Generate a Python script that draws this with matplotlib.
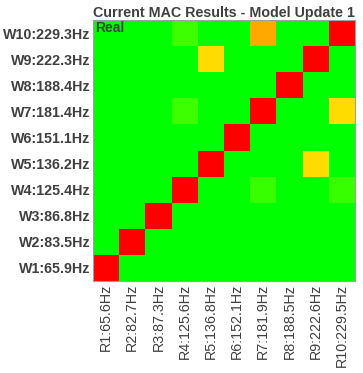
import numpy as np
import matplotlib
matplotlib.use("Agg")
import matplotlib.pyplot as plt
from matplotlib.colors import LinearSegmentedColormap

plt.rcParams['font.family'] = ['Liberation Sans', 'DejaVu Sans']

# frequency labels
ref_labels = ["R1:65.6Hz", "R2:82.7Hz", "R3:87.3Hz", "R4:125.6Hz", "R5:136.8Hz",
              "R6:152.1Hz", "R7:181.9Hz", "R8:188.5Hz", "R9:222.6Hz", "R10:229.5Hz"]
model_labels = ["W1:65.9Hz", "W2:83.5Hz", "W3:86.8Hz", "W4:125.4Hz", "W5:136.2Hz",
                "W6:151.1Hz", "W7:181.4Hz", "W8:188.4Hz", "W9:222.3Hz", "W10:229.3Hz"]

# MAC values, rows W1..W10, columns R1..R10
mac = np.array([
    [1.00, 0.00, 0.00, 0.00, 0.00, 0.00, 0.00, 0.00, 0.00, 0.00],
    [0.00, 1.00, 0.00, 0.00, 0.00, 0.00, 0.00, 0.00, 0.00, 0.00],
    [0.00, 0.00, 1.00, 0.00, 0.00, 0.00, 0.00, 0.00, 0.00, 0.00],
    [0.00, 0.00, 0.00, 1.00, 0.00, 0.00, 0.11, 0.00, 0.00, 0.11],
    [0.00, 0.00, 0.00, 0.00, 1.00, 0.00, 0.00, 0.00, 0.57, 0.00],
    [0.00, 0.00, 0.00, 0.00, 0.00, 1.00, 0.00, 0.00, 0.00, 0.00],
    [0.00, 0.00, 0.00, 0.12, 0.00, 0.00, 1.00, 0.00, 0.00, 0.57],
    [0.00, 0.00, 0.00, 0.00, 0.00, 0.00, 0.00, 1.00, 0.00, 0.00],
    [0.00, 0.00, 0.00, 0.00, 0.57, 0.00, 0.00, 0.00, 1.00, 0.00],
    [0.00, 0.00, 0.00, 0.12, 0.00, 0.00, 0.67, 0.00, 0.00, 1.00],
])

cmap = LinearSegmentedColormap.from_list("mac", ["#00ff00", "#ffff00", "#ff0000"])

fig = plt.figure(figsize=(3.63, 3.73), dpi=100)
ax = fig.add_axes([0.256, 0.247, 0.722, 0.699])
ax.pcolormesh(np.arange(11) - 0.5, np.arange(11) - 0.5, mac, cmap=cmap, vmin=0, vmax=1)
ax.set_xlim(-0.5, 9.5)
ax.set_ylim(-0.5, 9.5)

ax.set_xticks(range(10))
ax.set_xticklabels(ref_labels, rotation=90, fontsize=10.3, color='#404040')
ax.set_yticks(range(10))
ax.set_yticklabels(model_labels, fontsize=10.3, color='#404040', fontweight='bold')
ax.tick_params(length=0, pad=2)
for s in ax.spines.values():
    s.set_color('#a0a0a0')
    s.set_linewidth(0.8)

ax.set_title("Current MAC Results - Model Update 1", fontsize=10.3, fontweight='bold',
             color='#404040', pad=2, loc='right')
ax.text(0.01, 0.997, "Real", transform=ax.transAxes, ha='left', va='top',
        fontsize=10, color='#404040', fontweight='bold')

fig.savefig("out.png", dpi=100)
